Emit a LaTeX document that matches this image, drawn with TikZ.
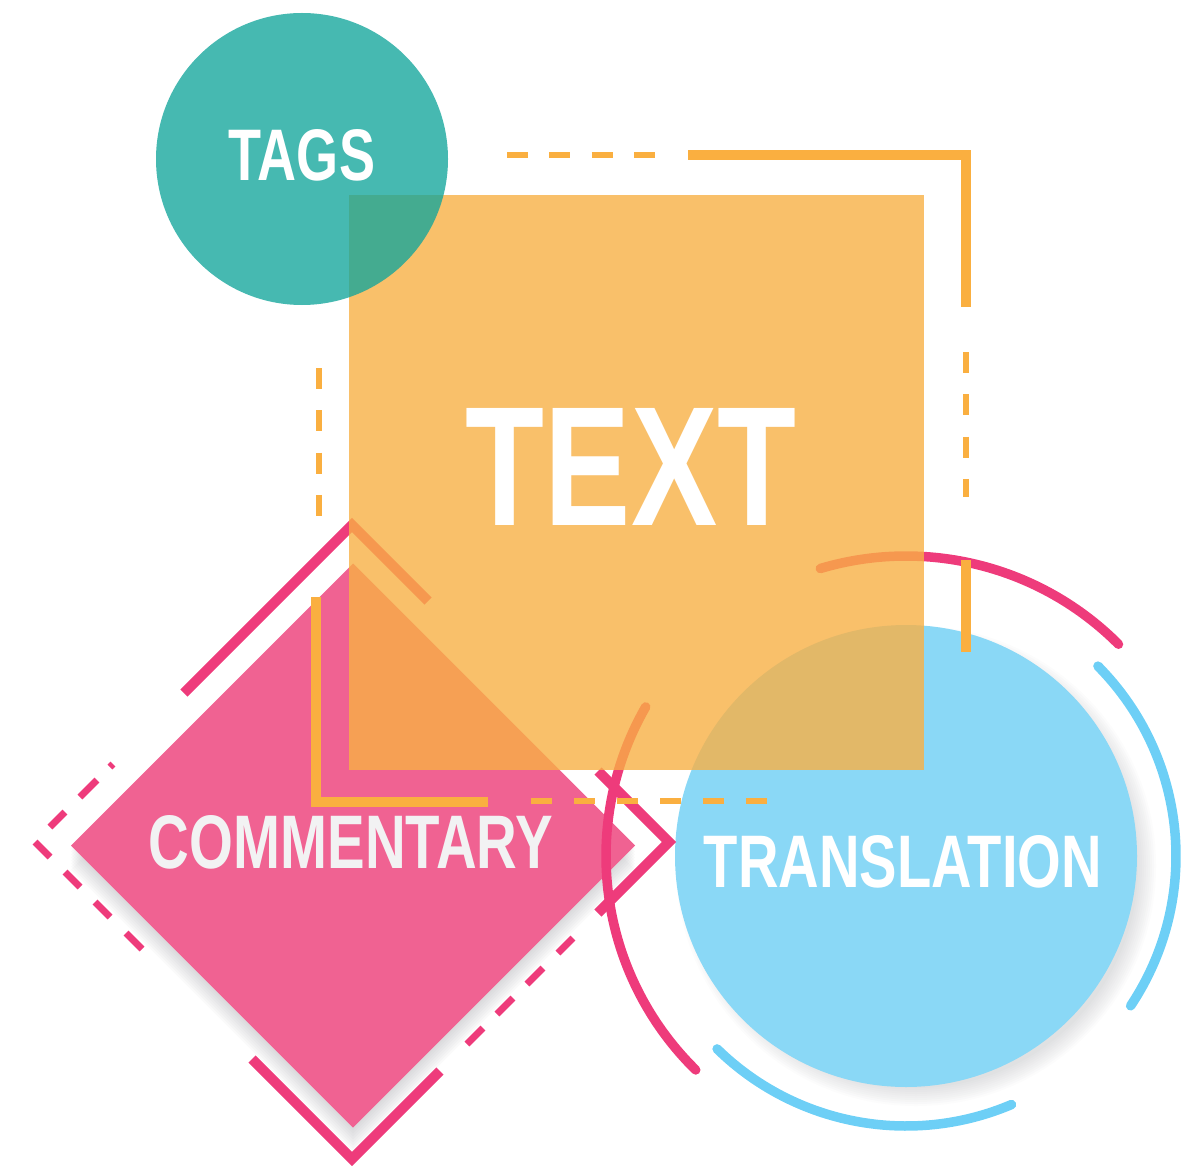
\documentclass[tikz,border=0pt]{standalone}
\usepackage{fontspec}
\setmainfont{Liberation Sans}
\usepackage{graphicx}
\definecolor{blueF}{RGB}{138,216,246}
\definecolor{blueL}{RGB}{109,207,246}
\definecolor{pinkF}{RGB}{240,98,146}
\definecolor{pinkL}{RGB}{238,59,123}
\definecolor{orangeF}{RGB}{248,176,69}
\definecolor{orangeL}{RGB}{250,175,64}
\definecolor{tealF}{RGB}{18,165,155}
\definecolor{shadowC}{RGB}{110,112,120}
\definecolor{textW}{RGB}{242,242,243}
\newcommand{\fitText}[3]{\resizebox{#1pt}{#2pt}{\bfseries #3}}
\begin{document}
\begin{tikzpicture}[x=1pt,y=-1pt,
  pinkline/.style={draw=pinkL,line width=10pt,line join=miter},
  pinkdash/.style={draw=pinkL,line width=7pt},
  orangeline/.style={draw=orangeL,line width=10pt,line join=miter},
  orangedash/.style={draw=orangeL,line width=6pt},
  arcline/.style={line width=9.5pt,line cap=round},
  lbl/.style={inner sep=0pt,outer sep=0pt}]
\useasboundingbox (0,0) rectangle (1204,1166);

% ---- blue circle with soft shadow
\foreach \k in {0,...,9}{\fill[shadowC,opacity=0.025] (916,866) circle[radius=222+2*\k];}
\fill[blueF] (906,856) circle[radius=231];
% blue outer arcs
\draw[blueL,arcline] (906,856) ++(-44.7:270) arc[start angle=-44.7,end angle=33.7,radius=270];
\draw[blueL,arcline] (906,856) ++(134.4:270) arc[start angle=134.4,end angle=67,radius=270];

% ---- pink diamond with soft shadow
\foreach \d in {3,6,...,24}{\fill[shadowC,opacity=0.035] (353,563.5+\d) -- (635,845.5+\d) -- (353,1127.5+\d) -- (71,845.5+\d) -- cycle;}
\fill[pinkF] (353,563.5) -- (635,845.5) -- (353,1127.5) -- (71,845.5) -- cycle;

% pink arcs around the translation circle
\draw[pinkL,arcline] (906,856) ++(-106.6:300) arc[start angle=-106.6,end angle=-44.9,radius=300];
\draw[pinkL,arcline] (906,856) ++(-150.2:300) arc[start angle=-150.2,end angle=-225.5,radius=300];

% pink diamond outline (solid parts)
\draw[pinkline] (184,693) -- (352,525) -- (428,601);
\draw[pinkline] (598,771) -- (669,842) -- (598,913);
\draw[pinkline] (440,1071) -- (352,1159) -- (252,1059);
% pink diamond outline (dashes)
\draw[pinkdash] (573,938) -- (558,953);
\draw[pinkdash] (543,968) -- (527,984);
\draw[pinkdash] (513,998) -- (497,1014);
\draw[pinkdash] (483,1028) -- (467,1044);
\draw[pinkdash] (142,949) -- (126,933);
\draw[pinkdash] (110,917) -- (95,902);
\draw[pinkdash] (80,887) -- (65,872);
\draw[pinkdash] (50,857) -- (35,842);
\draw[pinkdash] (50,827) -- (65,812);
\draw[pinkdash] (80,797) -- (97,780);
\draw[pinkdash] (110,767) -- (113,764);

% ---- orange square
\fill[orangeF,fill opacity=0.8] (349,195) rectangle (924,770);

% ---- teal circle
\fill[tealF,fill opacity=0.78] (302,159) circle[radius=146];

% ---- orange frame
\draw[orangeline] (688,155) -- (966,155) -- (966,307);
\draw[orangeline] (966,560) -- (966,652);
\draw[orangeline] (316,597) -- (316,802) -- (488,802);
\draw[orangedash,dash pattern=on 21pt off 21.3pt] (507,155) -- (656,155);
\draw[orangedash,dash pattern=on 21pt off 21.3pt] (966,352) -- (966,497);
\draw[orangedash,dash pattern=on 21pt off 21.3pt] (319,368) -- (319,517);
\draw[orangedash,dash pattern=on 21pt off 22pt] (531,801) -- (767,801);

% ---- labels
\node[lbl,text=white] (tags) at (302,155.5) {\fitText{146}{51}{TAGS}};
\node[lbl,text=white] (text) at (631,466.5) {\fitText{330}{117}{TEXT}};
\node[lbl,text=textW] (commentary) at (351,842.5) {\fitText{404}{53}{COMMENTARY}};
\node[lbl,text=white] (translation) at (903,862) {\fitText{398}{52}{TRANSLATION}};
\end{tikzpicture}
\end{document}
